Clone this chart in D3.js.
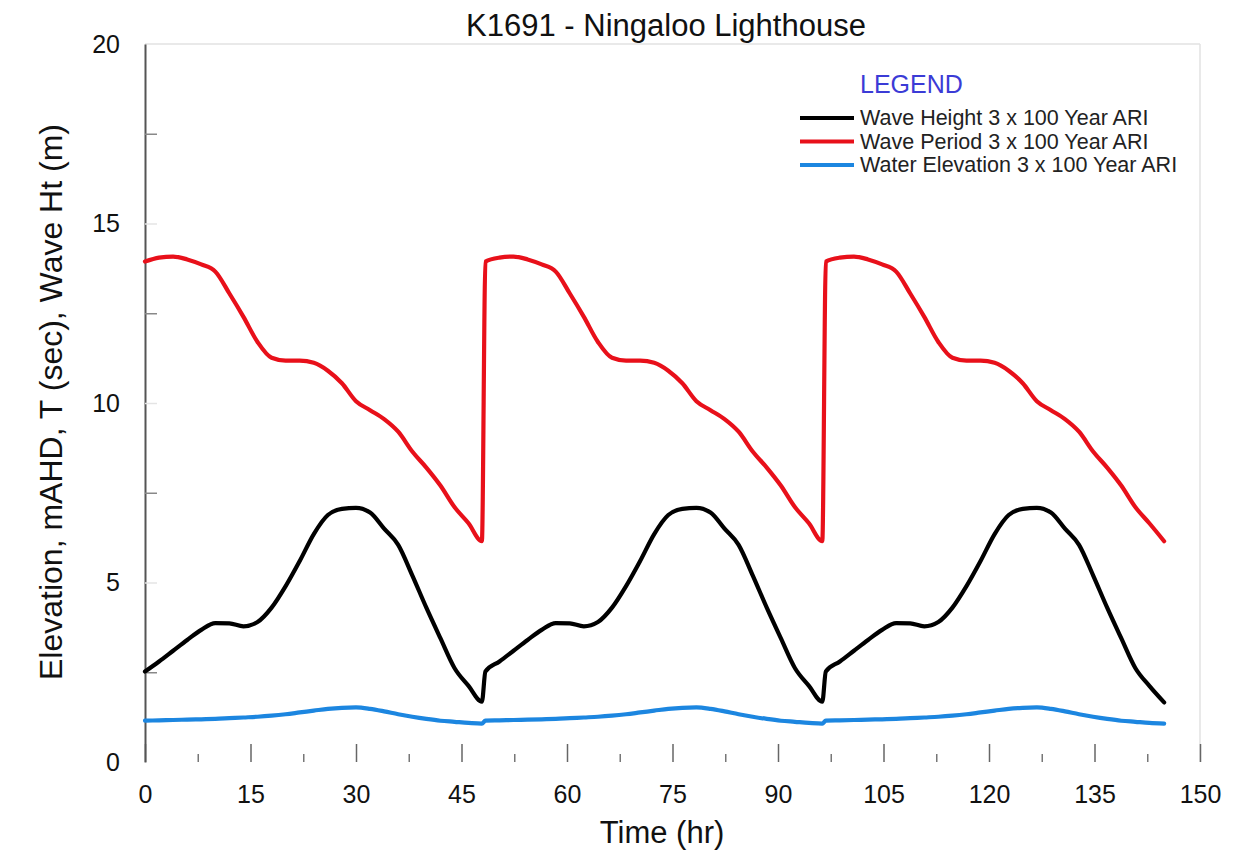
<!DOCTYPE html>
<html>
<head>
<meta charset="utf-8">
<script src="https://cdn.jsdelivr.net/npm/d3@7"></script>
<style>
  html, body { margin: 0; padding: 0; background: #ffffff; }
  svg { display: block; font-family: "Liberation Sans", Arial, sans-serif; }
</style>
</head>
<body>
<svg id="chart" width="1251" height="851"></svg>
<script>
// Time (hr) of each sample, three consecutive design storms
const hours = [
  0, 2, 4, 6, 8, 10, 12, 14, 16, 18, 20, 22, 24, 26, 28, 30, 32, 34, 36, 38, 40, 42, 44, 46, 47.9,
  48.4, 50.4, 52.4, 54.4, 56.4, 58.4, 60.4, 62.4, 64.4, 66.4, 68.4, 70.4, 72.4, 74.4, 76.4, 78.4, 80.4, 82.4, 84.4, 86.4, 88.4, 90.4, 92.4, 94.4, 96.3,
  96.8, 98.8, 100.8, 102.8, 104.8, 106.8, 108.8, 110.8, 112.8, 114.8, 116.8, 118.8, 120.8, 122.8, 124.8, 126.8, 128.8, 130.8, 132.8, 134.8, 136.8, 138.8, 140.8, 142.8, 144.9
];

// Wave height (m)
const waveHeight = [
  2.52, 2.80, 3.10, 3.40, 3.68, 3.87, 3.86, 3.78, 3.90, 4.30, 4.90, 5.60, 6.35, 6.88, 7.05, 7.08, 6.95, 6.50, 6.05, 5.20, 4.30, 3.45, 2.62, 2.12, 1.68,
  2.52, 2.80, 3.10, 3.40, 3.68, 3.87, 3.86, 3.78, 3.90, 4.30, 4.90, 5.60, 6.35, 6.88, 7.05, 7.08, 6.95, 6.50, 6.05, 5.20, 4.30, 3.45, 2.62, 2.12, 1.68,
  2.52, 2.80, 3.10, 3.40, 3.68, 3.87, 3.86, 3.78, 3.90, 4.30, 4.90, 5.60, 6.35, 6.88, 7.05, 7.08, 6.95, 6.50, 6.05, 5.20, 4.30, 3.45, 2.62, 2.12, 1.66
];

// Wave period (sec)
const wavePeriod = [
  13.94, 14.05, 14.08, 14.00, 13.86, 13.66, 13.05, 12.40, 11.70, 11.26, 11.18, 11.18, 11.12, 10.90, 10.55, 10.05, 9.80, 9.55, 9.20, 8.65, 8.20, 7.70, 7.10, 6.65, 6.15,
  13.94, 14.05, 14.08, 14.00, 13.86, 13.66, 13.05, 12.40, 11.70, 11.26, 11.18, 11.18, 11.12, 10.90, 10.55, 10.05, 9.80, 9.55, 9.20, 8.65, 8.20, 7.70, 7.10, 6.65, 6.15,
  13.94, 14.05, 14.08, 14.00, 13.86, 13.66, 13.05, 12.40, 11.70, 11.26, 11.18, 11.18, 11.12, 10.90, 10.55, 10.05, 9.80, 9.55, 9.20, 8.65, 8.20, 7.70, 7.10, 6.65, 6.15
];

// Water elevation (mAHD)
const waterElevation = [
  1.15, 1.16, 1.17, 1.18, 1.19, 1.20, 1.22, 1.24, 1.26, 1.29, 1.33, 1.38, 1.43, 1.48, 1.51, 1.52, 1.48, 1.41, 1.33, 1.26, 1.20, 1.15, 1.12, 1.09, 1.07,
  1.15, 1.16, 1.17, 1.18, 1.19, 1.20, 1.22, 1.24, 1.26, 1.29, 1.33, 1.38, 1.43, 1.48, 1.51, 1.52, 1.48, 1.41, 1.33, 1.26, 1.20, 1.15, 1.12, 1.09, 1.07,
  1.15, 1.16, 1.17, 1.18, 1.19, 1.20, 1.22, 1.24, 1.26, 1.29, 1.33, 1.38, 1.43, 1.48, 1.51, 1.52, 1.48, 1.41, 1.33, 1.26, 1.20, 1.15, 1.12, 1.09, 1.07
];

const seriesNames = [
  "Wave Height 3 x 100 Year ARI",
  "Wave Period 3 x 100 Year ARI",
  "Water Elevation 3 x 100 Year ARI"
];
const seriesColors = ["#000000", "#e8101a", "#1c86e0"];

const xTicks = [0, 15, 30, 45, 60, 75, 90, 105, 120, 135, 150];
const xMinorTicks = [7.5, 22.5, 37.5, 52.5, 67.5, 82.5, 97.5, 112.5, 127.5, 142.5];
const yTicks = [0, 5, 10, 15, 20];
const yMinorTicks = [2.5, 7.5, 12.5, 17.5];

const titleText = "K1691 - Ningaloo Lighthouse";
const xLabel = "Time (hr)";
const yLabel = "Elevation, mAHD, T (sec), Wave Ht (m)";

const svg = d3.select("#chart");
const margin = { left: 145, right: 51, top: 44, bottom: 89 };
const W = 1251, H = 851;
const FONT = "Liberation Sans, Arial, sans-serif";

const x = d3.scaleLinear().domain([0, 150]).range([margin.left, W - margin.right]);
const y = d3.scaleLinear().domain([0, 20]).range([H - margin.bottom, margin.top]);

// light frame around the plotting area
svg.append("line").attr("x1", x(0)).attr("x2", x(150)).attr("y1", y(20)).attr("y2", y(20))
  .attr("stroke", "#e2e2e2").attr("stroke-width", 1.5);
svg.append("line").attr("x1", x(150)).attr("x2", x(150)).attr("y1", y(20)).attr("y2", y(0))
  .attr("stroke", "#e2e2e2").attr("stroke-width", 1.5);

// x axis: ticks pointing up into the plot, no baseline
const xAxis = svg.append("g").attr("transform", `translate(0,${y(0)})`)
  .call(d3.axisBottom(x).tickValues(xTicks).tickSize(-18).tickPadding(23).tickFormat(d3.format("d")));
xAxis.select(".domain").remove();
xAxis.selectAll(".tick line").attr("stroke", "#666").attr("stroke-width", 1.5);
xAxis.selectAll(".tick text").attr("fill", "#111").attr("font-size", 25).attr("font-family", FONT);

const xMinor = svg.append("g").attr("transform", `translate(0,${y(0)})`)
  .call(d3.axisBottom(x).tickValues(xMinorTicks).tickSize(-8).tickFormat(""));
xMinor.select(".domain").remove();
xMinor.selectAll(".tick line").attr("stroke", "#777").attr("stroke-width", 1.5);

// y axis: labels on the left, ticks pointing right into the plot
const yAxis = svg.append("g").attr("transform", `translate(${x(0)},0)`)
  .call(d3.axisLeft(y).tickValues(yTicks).tickSize(0).tickPadding(25).tickFormat(d3.format("d")));
yAxis.select(".domain").attr("stroke", "#555").attr("stroke-width", 2);
yAxis.selectAll(".tick text").attr("fill", "#111").attr("font-size", 25).attr("font-family", FONT);

const yMinor = svg.append("g").attr("transform", `translate(${x(0)},0)`)
  .call(d3.axisRight(y).tickValues(yMinorTicks).tickSize(12).tickFormat(""));
yMinor.select(".domain").remove();
yMinor.selectAll(".tick line").attr("stroke", "#888").attr("stroke-width", 1.5);

const yMajorIn = svg.append("g").attr("transform", `translate(${x(0)},0)`)
  .call(d3.axisRight(y).tickValues([5, 10, 15]).tickSize(12).tickFormat(""));
yMajorIn.select(".domain").remove();
yMajorIn.selectAll(".tick line").attr("stroke", "#e4e4e4").attr("stroke-width", 1.5);

// data lines
const allSeries = [waveHeight, wavePeriod, waterElevation];
const line = d3.line()
  .x((d, i) => x(hours[i]))
  .y(d => y(d))
  .curve(d3.curveMonotoneX);

// draw order: blue, black, red
[2, 0, 1].forEach(k => {
  svg.append("path")
    .datum(allSeries[k])
    .attr("fill", "none")
    .attr("stroke", seriesColors[k])
    .attr("stroke-width", 4.2)
    .attr("stroke-linejoin", "round")
    .attr("stroke-linecap", "round")
    .attr("d", line);
});

// title and axis labels
svg.append("text").attr("x", 666).attr("y", 36).attr("text-anchor", "middle")
  .attr("font-size", 31).attr("fill", "#111").text(titleText);
svg.append("text").attr("x", 662).attr("y", 843).attr("text-anchor", "middle")
  .attr("font-size", 31).attr("fill", "#111").text(xLabel);
svg.append("text")
  .attr("transform", `translate(62,402) rotate(-90)`)
  .attr("text-anchor", "middle").attr("font-size", 32).attr("fill", "#111").text(yLabel);

// legend
const legend = svg.append("g").attr("transform", "translate(800,0)");
legend.append("text").attr("x", 60).attr("y", 93).attr("font-size", 25)
  .attr("fill", "#3b3bd6").text("LEGEND");
seriesNames.forEach((name, i) => {
  const ly = 118 + i * 23.5;
  legend.append("line").attr("x1", 0).attr("x2", 54).attr("y1", ly).attr("y2", ly)
    .attr("stroke", seriesColors[i]).attr("stroke-width", 4.2);
  legend.append("text").attr("x", 60).attr("y", ly + 7).attr("font-size", 21.5)
    .attr("fill", "#222").text(name);
});
</script>
</body>
</html>
